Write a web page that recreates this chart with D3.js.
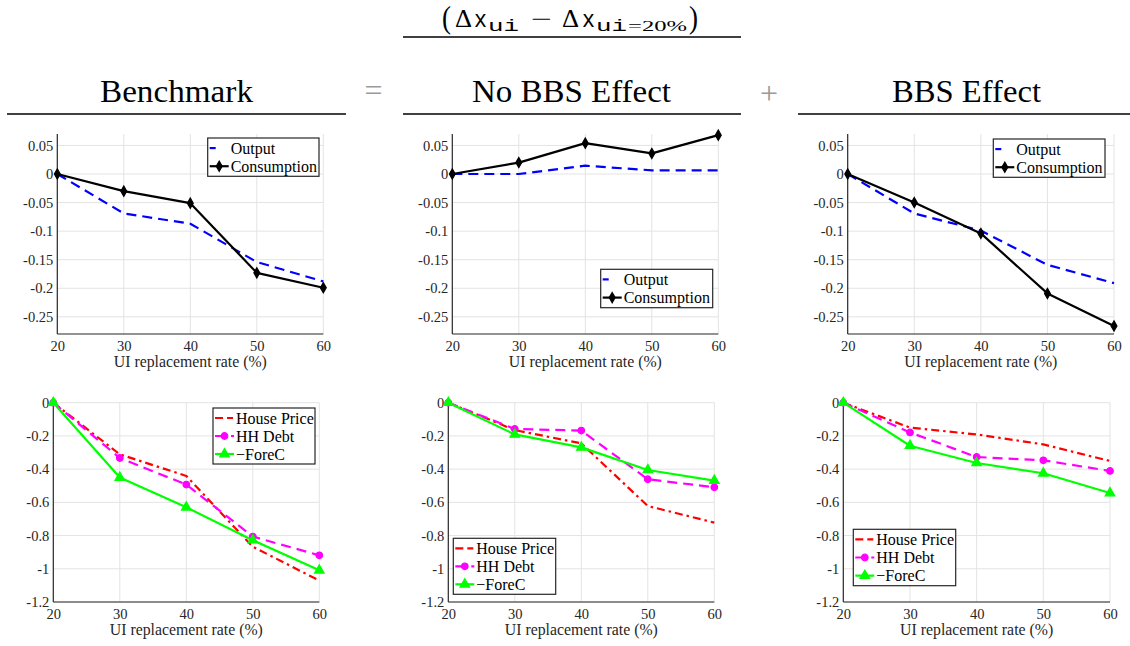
<!DOCTYPE html>
<html><head><meta charset="utf-8">
<script src="https://cdn.jsdelivr.net/npm/d3@7"></script>
<style>body{margin:0;background:#fff;} svg{display:block;}</style>
</head><body>
<svg id="c" width="1130" height="646"></svg>
<script>
// ---------------- DATA ----------------
const xValues = [20, 30, 40, 50, 60];
const xTickLabels = ["20", "30", "40", "50", "60"];
const topYTicks = [0.05, 0, -0.05, -0.1, -0.15, -0.2, -0.25];
const topYTickLabels = ["0.05", "0", "-0.05", "-0.1", "-0.15", "-0.2", "-0.25"];
const botYTicks = [0, -0.2, -0.4, -0.6, -0.8, -1, -1.2];
const botYTickLabels = ["0", "-0.2", "-0.4", "-0.6", "-0.8", "-1", "-1.2"];
const xAxisLabel = "UI replacement rate (%)";
const columnTitles = ["Benchmark", "No BBS Effect", "BBS Effect"];
const topSeriesNames = ["Output", "Consumption"];
const botSeriesNames = ["House Price", "HH Debt", "\u2212ForeC"];

const benchOutput      = [0, -0.069, -0.087, -0.154, -0.188];
const benchConsumption = [0, -0.030, -0.051, -0.173, -0.199];
const noBbsOutput      = [0, 0.000, 0.0145, 0.0064, 0.0064];
const noBbsConsumption = [0, 0.020, 0.054, 0.036, 0.068];
const bbsOutput        = [0, -0.069, -0.099, -0.159, -0.191];
const bbsConsumption   = [0, -0.050, -0.104, -0.209, -0.266];

const benchHousePrice  = [0, -0.311, -0.441, -0.867, -1.071];
const benchHHDebt      = [0, -0.333, -0.493, -0.806, -0.919];
const benchForeC       = [0, -0.451, -0.630, -0.828, -1.009];
const noBbsHousePrice  = [0, -0.165, -0.245, -0.622, -0.722];
const noBbsHHDebt      = [0, -0.158, -0.168, -0.461, -0.509];
const noBbsForeC       = [0, -0.191, -0.269, -0.405, -0.469];
const bbsHousePrice    = [0, -0.150, -0.191, -0.251, -0.351];
const bbsHHDebt        = [0, -0.179, -0.327, -0.347, -0.411];
const bbsForeC         = [0, -0.259, -0.363, -0.425, -0.544];

// ---------------- STYLES ----------------
const styles = {
  "Output":      {color: "#0000ff", dash: "10,6", width: 2.2, marker: null},
  "Consumption": {color: "#000000", dash: null, width: 2.2, marker: "diamond"},
  "House Price": {color: "#ff0000", dash: "8,4,2.5,4", width: 2.2, marker: null},
  "HH Debt":     {color: "#ff00ff", dash: "10,6", width: 2.2, marker: "circle"},
  "\u2212ForeC": {color: "#00ff00", dash: null, width: 2.2, marker: "triangle"}
};
const SERIF = '"Liberation Serif"';
const MONO = '"Liberation Mono"';
const axisColor = "#262626";

const svg = d3.select("#c");
svg.append("rect").attr("width", 1130).attr("height", 646).attr("fill", "#fff");

// ---------------- HEADER ----------------
const header = svg.append("g");
function hline(x0, x1, y) {
  header.append("line").attr("x1", x0).attr("x2", x1).attr("y1", y).attr("y2", y)
    .attr("stroke", "#000").attr("stroke-width", 1.3);
}
hline(403, 741, 37);
hline(7, 346, 114);
hline(403, 741, 114);
hline(798, 1130, 114);

const titleCenters = [176.5, 571.5, 966.5];
const titleWidths = [153, 199, 149];
columnTitles.forEach((t, i) => {
  header.append("text").text(t)
    .attr("x", titleCenters[i] - titleWidths[i] / 2).attr("y", 102)
    .attr("textLength", titleWidths[i]).attr("lengthAdjust", "spacingAndGlyphs")
    .style("font-family", SERIF).style("font-size", "31px").attr("fill", "#000");
});
header.append("text").text("=").attr("x", 373.5).attr("y", 101).attr("text-anchor", "middle")
  .style("font-family", SERIF).style("font-size", "32px").attr("fill", "#9a9a9a");
header.append("text").text("+").attr("x", 769).attr("y", 104).attr("text-anchor", "middle")
  .style("font-family", SERIF).style("font-size", "32px").attr("fill", "#9a9a9a");

// formula (Δx_ui − Δx_ui=20%)
function ftext(str, x, y, size, fam, len) {
  const t = header.append("text").text(str).attr("x", x).attr("y", y)
    .style("font-family", fam).style("font-size", size + "px").attr("fill", "#000");
  if (len) t.attr("textLength", len).attr("lengthAdjust", "spacingAndGlyphs");
  return t;
}
ftext("(", 442, 28, 31, SERIF, 9);
ftext("\u0394", 455, 27, 25, SERIF, 17);
ftext("x", 474, 27, 23, MONO, 13);
ftext("ui", 488, 31, 17, MONO, 31);
ftext("\u2212", 531, 27, 24, SERIF, 21);
ftext("\u0394", 562, 27, 25, SERIF, 17);
ftext("x", 582, 27, 23, MONO, 13);
ftext("ui", 596, 31, 17, MONO, 31);
ftext("=20%", 628, 31, 15, SERIF, 59);
ftext(")", 689, 28, 31, SERIF, 9);

// ---------------- PANELS ----------------
const topRow = {domain: [-0.28, 0.07], yTop: 134, yBot: 334, ticks: topYTicks, labels: topYTickLabels, names: topSeriesNames};
const botRow = {domain: [-1.2, 0], yTop: 402.7, yBot: 602, ticks: botYTicks, labels: botYTickLabels, names: botSeriesNames};

const panels = [
  {row: topRow, x0: 57.3, x1: 323.3, data: [benchOutput, benchConsumption], legend: {x: 207.7, y: 138, w: 111.3, h: 38.3}},
  {row: topRow, x0: 452.3, x1: 718.3, data: [noBbsOutput, noBbsConsumption], legend: {x: 600.7, y: 269.3, w: 112, h: 38.4}},
  {row: topRow, x0: 847.7, x1: 1114, data: [bbsOutput, bbsConsumption], legend: {x: 993.3, y: 139, w: 111.7, h: 38.3}},
  {row: botRow, x0: 53.3, x1: 319.3, data: [benchHousePrice, benchHHDebt, benchForeC], legend: {x: 213, y: 408, w: 102, h: 56}},
  {row: botRow, x0: 448.3, x1: 714.3, data: [noBbsHousePrice, noBbsHHDebt, noBbsForeC], legend: {x: 453.3, y: 538.3, w: 102.4, h: 56}},
  {row: botRow, x0: 843.3, x1: 1110, data: [bbsHousePrice, bbsHHDebt, bbsForeC], legend: {x: 853.3, y: 529.3, w: 102.4, h: 56.4}}
];

function drawMarker(g, type, x, y, color) {
  if (!type) return;
  let sym;
  if (type === "diamond") sym = d3.symbol().type(d3.symbolDiamond).size(30);
  else if (type === "circle") sym = d3.symbol().type(d3.symbolCircle).size(34);
  else sym = d3.symbol().type(d3.symbolTriangle).size(40);
  g.append("path").attr("d", sym()).attr("transform", `translate(${x},${y})`)
    .attr("fill", color).attr("stroke", color).attr("stroke-width", 1.2);
}

panels.forEach(p => {
  const r = p.row;
  const g = svg.append("g");
  const x = d3.scaleLinear().domain([20, 60]).range([p.x0, p.x1]);
  const y = d3.scaleLinear().domain(r.domain).range([r.yBot, r.yTop]);

  // grid
  g.append("g").selectAll("line").data(xValues.slice(1)).join("line")
    .attr("x1", d => x(d)).attr("x2", d => x(d)).attr("y1", r.yTop).attr("y2", r.yBot)
    .attr("stroke", "#e3e3e3").attr("stroke-width", 1);
  g.append("g").selectAll("line").data(r.ticks).join("line")
    .attr("x1", p.x0).attr("x2", p.x1).attr("y1", d => y(d)).attr("y2", d => y(d))
    .attr("stroke", "#e3e3e3").attr("stroke-width", 1);

  // axes
  const xAxis = d3.axisBottom(x).tickValues(xValues).tickSize(0).tickPadding(7)
    .tickFormat((d, i) => xTickLabels[i]);
  const gx = g.append("g").attr("transform", `translate(0,${r.yBot})`).call(xAxis);
  const yAxis = d3.axisLeft(y).tickValues(r.ticks).tickSize(0).tickPadding(4)
    .tickFormat((d, i) => r.labels[i]);
  const gy = g.append("g").attr("transform", `translate(${p.x0},0)`).call(yAxis);
  [gx, gy].forEach(a => {
    a.attr("font-family", null).attr("font-size", null);
    a.select(".domain").attr("stroke", axisColor).attr("stroke-width", 1.2);
    a.selectAll("text").style("font-family", SERIF).style("font-size", "14.5px").attr("fill", axisColor);
  });
  gy.select(".domain").attr("d", `M0,${r.yTop}V${r.yBot}`);
  gx.select(".domain").attr("d", `M${p.x0},0H${p.x1}`);

  g.append("text").text(xAxisLabel).attr("x", (p.x0 + p.x1) / 2).attr("y", r.yBot + 33)
    .attr("text-anchor", "middle").style("font-family", SERIF).style("font-size", "15.8px").attr("fill", axisColor);

  // series
  const line = d3.line().x((d, i) => x(xValues[i])).y(d => y(d));
  r.names.forEach((name, si) => {
    const s = styles[name];
    const vals = p.data[si];
    g.append("path").datum(vals).attr("d", line).attr("fill", "none")
      .attr("stroke", s.color).attr("stroke-width", s.width)
      .attr("stroke-dasharray", s.dash).attr("stroke-linejoin", "round");
    if (s.marker) vals.forEach((v, i) => drawMarker(g, s.marker, x(xValues[i]), y(v), s.color));
  });

  // legend
  const L = p.legend;
  const lg = g.append("g");
  lg.append("rect").attr("x", L.x).attr("y", L.y).attr("width", L.w).attr("height", L.h)
    .attr("fill", "#fff").attr("stroke", "#262626").attr("stroke-width", 1.2);
  const n = r.names.length;
  const rowH = (L.h - 2) / n;
  r.names.forEach((name, si) => {
    const s = styles[name];
    const cy = L.y + 1 + rowH * (si + 0.5);
    const lx0 = L.x + 2, lx1 = L.x + 21;
    lg.append("line").attr("x1", lx0).attr("x2", lx1).attr("y1", cy).attr("y2", cy)
      .attr("stroke", s.color).attr("stroke-width", s.width)
      .attr("stroke-dasharray", name === "Output" ? "6,20" : (name === "House Price" ? "8,4,6,20" : s.dash));
    drawMarker(lg, s.marker, (lx0 + lx1) / 2, cy, s.color);
    lg.append("text").text(name).attr("x", lx1 + 2).attr("y", cy).attr("dy", "0.35em")
      .style("font-family", SERIF).style("font-size", "16px").attr("fill", "#000");
  });
});
</script>
</body></html>
